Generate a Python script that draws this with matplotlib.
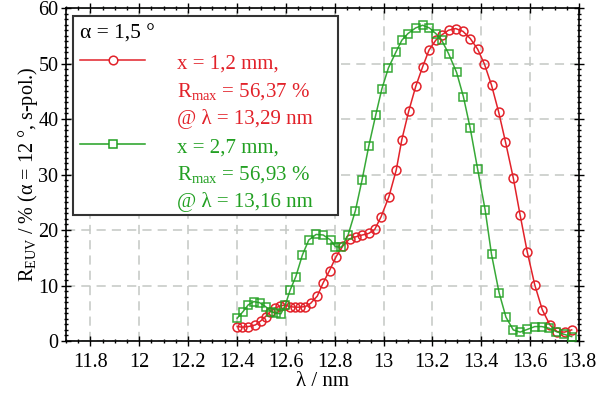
import numpy as np
import matplotlib
matplotlib.use("Agg")
import matplotlib.pyplot as plt
from matplotlib.patches import Rectangle
from matplotlib.lines import Line2D
from matplotlib.ticker import MultipleLocator, FuncFormatter

plt.rcParams['font.family'] = ['Liberation Serif', 'DejaVu Serif']
plt.rcParams['mathtext.fontset'] = 'custom'
plt.rcParams['mathtext.rm'] = 'Liberation Serif'
plt.rcParams['mathtext.it'] = 'Liberation Serif:italic'
plt.rcParams['font.size'] = 14

# reflectivity at x = 1.2 mm
lam_a = [12.401, 12.422, 12.446, 12.476, 12.497, 12.517, 12.537, 12.555, 12.576, 12.596,
         12.616, 12.637, 12.657, 12.680, 12.702, 12.729, 12.752, 12.779, 12.806, 12.833,
         12.861, 12.888, 12.913, 12.940, 12.964, 12.990, 13.022, 13.052, 13.075, 13.103,
         13.132, 13.160, 13.186, 13.214, 13.240, 13.266, 13.295, 13.325, 13.355, 13.385,
         13.413, 13.442, 13.471, 13.499, 13.531, 13.559, 13.588, 13.619, 13.650, 13.681,
         13.710, 13.741, 13.770]
refl_a = [2.6, 2.5, 2.6, 2.9, 3.6, 4.4, 5.3, 5.9, 6.3, 6.5,
          6.2, 6.1, 6.1, 6.2, 6.8, 8.1, 10.4, 12.7, 15.2, 17.1,
          18.4, 18.8, 19.1, 19.4, 20.1, 22.4, 26.0, 30.8, 36.3, 41.4,
          45.9, 49.4, 52.4, 54.2, 55.2, 56.0, 56.3, 55.8, 54.5, 52.6,
          49.9, 46.1, 41.3, 35.9, 29.4, 22.7, 16.1, 10.1, 5.6, 2.9,
          1.7, 1.6, 2.0]

# reflectivity at x = 2.7 mm
lam_b = [12.401, 12.425, 12.446, 12.469, 12.493, 12.517, 12.540, 12.560, 12.580, 12.598,
         12.618, 12.641, 12.668, 12.694, 12.724, 12.753, 12.783, 12.803, 12.828, 12.855,
         12.885, 12.912, 12.940, 12.968, 12.993, 13.020, 13.050, 13.075, 13.100, 13.131,
         13.160, 13.188, 13.214, 13.238, 13.266, 13.299, 13.327, 13.355, 13.385, 13.416,
         13.442, 13.473, 13.501, 13.531, 13.559, 13.589, 13.619, 13.648, 13.678, 13.707,
         13.739, 13.770]
refl_b = [4.1, 5.3, 6.5, 7.1, 6.9, 6.2, 5.3, 5.0, 4.9, 6.5,
          9.2, 11.6, 15.5, 18.2, 19.2, 19.1, 18.2, 17.0, 16.9, 19.1,
          23.5, 29.0, 35.2, 40.7, 45.4, 49.2, 52.0, 54.2, 55.4, 56.4,
          56.9, 56.4, 55.4, 54.2, 51.8, 48.4, 44.0, 38.3, 31.0, 23.6,
          15.6, 8.7, 4.3, 2.0, 1.6, 2.1, 2.6, 2.6, 2.3, 1.7,
          1.2, 0.8]

x_ticks = [11.8, 12.0, 12.2, 12.4, 12.6, 12.8, 13.0, 13.2, 13.4, 13.6, 13.8]
y_ticks = [0, 10, 20, 30, 40, 50, 60]

legend_title = "α = 1,5 °"
legend_a = ["x = 1,2 mm,", "R$_{\\rm max}$ = 56,37 %", "@ λ = 13,29 nm"]
legend_b = ["x = 2,7 mm,", "R$_{\\rm max}$ = 56,93 %", "@ λ = 13,16 nm"]

RED = '#e2222a'
GREEN = '#22a022'

fig = plt.figure(figsize=(5.99, 3.93), dpi=100)
ax = fig.add_axes([0.110, 0.1323, 0.8566, 0.8473])

ax.plot(lam_a, refl_a, color=RED, lw=1.1, marker='o', ms=6.4, mfc='none',
        mec=RED, mew=1.1, zorder=3)
ax.plot(lam_b, refl_b, color=GREEN, lw=1.1, marker='s', ms=6.2, mfc='none',
        mec=GREEN, mew=1.1, alpha=0.9, zorder=3)

ax.set_xlim(11.7, 13.8)
ax.set_ylim(0, 60)
ax.set_xticks(x_ticks)
ax.set_yticks(y_ticks)
ax.xaxis.set_major_formatter(FuncFormatter(lambda v, p: f"{v:g}"))
ax.xaxis.set_minor_locator(MultipleLocator(0.05))
ax.yaxis.set_minor_locator(MultipleLocator(1))
ax.tick_params(which='both', direction='inout', top=True, right=True,
               labelsize=14.5, width=1.0)
ax.tick_params(which='major', length=7)
ax.tick_params(axis='x', which='major', pad=5)
ax.tick_params(axis='y', which='major', pad=2)
ax.tick_params(which='minor', length=3.5)
for s in ax.spines.values():
    s.set_linewidth(1.2)

ax.grid(True, which='major', color='#c4c8c4', linestyle=(0, (6, 4)), lw=1.1)
ax.set_axisbelow(True)

ax.set_xlabel("λ / nm", fontsize=15, labelpad=0)
ax.set_ylabel("R$_{\\rm EUV}$ / % (α = 12 °, s-pol.)", fontsize=14.5, labelpad=-1)

# legend box
ax.add_patch(Rectangle((0.0136, 0.378), 0.516, 0.598, transform=ax.transAxes,
                       facecolor='white', edgecolor='#333333', lw=1.5, zorder=5))
ax.text(0.027, 0.908, legend_title, transform=ax.transAxes, fontsize=15.5,
        va='baseline', ha='left', zorder=6)
for (yl, col, mk, texts, ys) in [
        (0.844, RED, 'o', legend_a, [0.818, 0.734, 0.653]),
        (0.592, GREEN, 's', legend_b, [0.566, 0.485, 0.401])]:
    ax.add_line(Line2D([0.027, 0.154], [yl, yl], transform=ax.transAxes, color=col,
                       lw=1.1, zorder=6))
    ax.add_line(Line2D([0.091], [yl], transform=ax.transAxes, color=col, marker=mk,
                       ms=6.2, mfc='white', mec=col, mew=1.1, zorder=7))
    for t, yy in zip(texts, ys):
        ax.text(0.216, yy, t, transform=ax.transAxes, color=col, fontsize=15,
                va='baseline', ha='left', zorder=6)

fig.savefig("out.png", dpi=100)
